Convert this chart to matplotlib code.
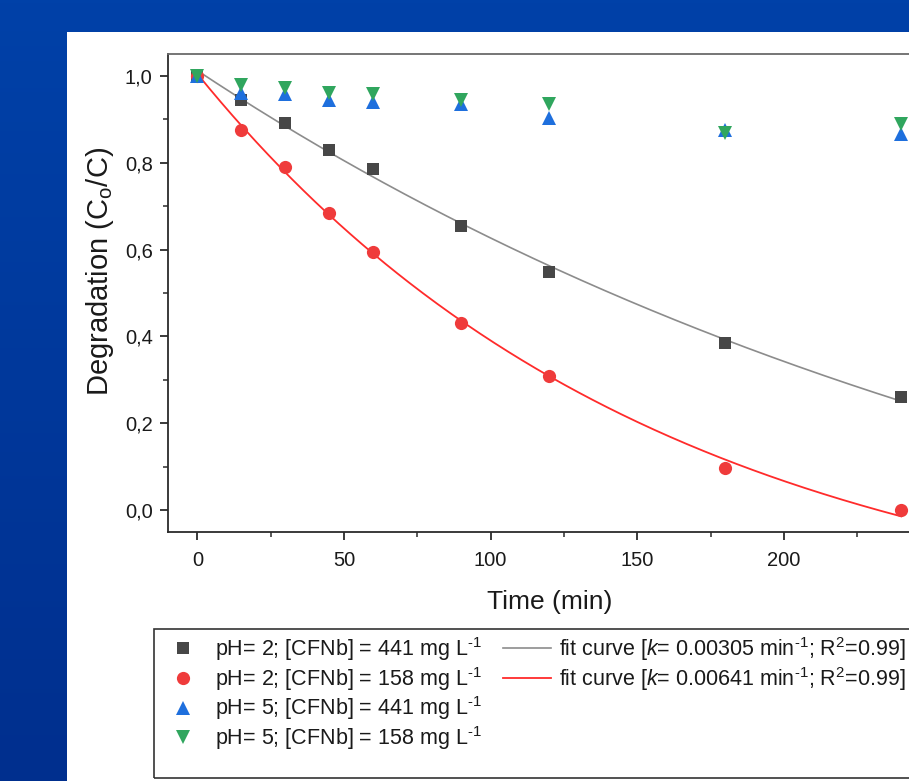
import numpy as np
import matplotlib.pyplot as plt
from matplotlib.patches import Rectangle
from matplotlib.lines import Line2D
from matplotlib.ticker import FixedLocator, MultipleLocator, FuncFormatter

plt.rcParams['font.family'] = ['Liberation Sans', 'DejaVu Sans']
plt.rcParams['mathtext.fontset'] = 'custom'
plt.rcParams['mathtext.rm'] = 'Liberation Sans'
plt.rcParams['mathtext.it'] = 'Liberation Sans:italic'

# sampling times (min)
time = [0, 15, 30, 45, 60, 90, 120, 180, 240]

# C/Co for each condition
ph2_441 = [1.0, 0.945, 0.892, 0.828, 0.786, 0.655, 0.549, 0.384, 0.260]
ph2_158 = [1.0, 0.876, 0.791, 0.685, 0.595, 0.432, 0.308, 0.097, 0.0]
ph5_441 = [1.0, 0.961, 0.959, 0.943, 0.939, 0.936, 0.903, 0.874, 0.867]
ph5_158 = [1.0, 0.979, 0.972, 0.961, 0.959, 0.945, 0.936, 0.869, 0.890]

# rate constants of the fitted first-order curves (min-1)
k_441 = 0.00305
k_158 = 0.00641

x_major = [0, 50, 100, 150, 200]
x_minor = [25, 75, 125, 175, 225]

series_labels = ['pH= 2; [CFNb] = 441 mg L$^{\\text{-1}}$',
                 'pH= 2; [CFNb] = 158 mg L$^{\\text{-1}}$',
                 'pH= 5; [CFNb] = 441 mg L$^{\\text{-1}}$',
                 'pH= 5; [CFNb] = 158 mg L$^{\\text{-1}}$']
fit_labels = ['fit curve [$\\mathit{k}$= 0.00305 min$^{\\text{-1}}$; R$^{\\mathregular{2}}$=0.99]',
              'fit curve [$\\mathit{k}$= 0.00641 min$^{\\text{-1}}$; R$^{\\mathregular{2}}$=0.99]']


def fit_curve(t, y, k, t_fit):
    # y = A + B*exp(-k t), A and B by least squares with k fixed
    t = np.asarray(t, float)
    M = np.column_stack([np.ones_like(t), np.exp(-k * t)])
    (a, b), *_ = np.linalg.lstsq(M, np.asarray(y, float), rcond=None)
    return a + b * np.exp(-k * t_fit)


W, H = 909, 781
fig = plt.figure(figsize=(W / 100, H / 100), dpi=100)

# blue slide background + white panel
bg = fig.add_axes([0, 0, 1, 1], zorder=-10)
grad = np.linspace(0, 1, 256).reshape(-1, 1)
top = np.array([0x00, 0x41, 0xa8]) / 255
bot = np.array([0x00, 0x2f, 0x8e]) / 255
img = top[None, None, :] * (1 - grad[:, :, None]) + bot[None, None, :] * grad[:, :, None]
bg.imshow(img, aspect='auto', extent=[0, 1, 0, 1], origin='upper')
bg.add_patch(Rectangle((67 / W, 0), 1, (H - 32) / H, color='white', lw=0))
bg.set_xlim(0, 1)
bg.set_ylim(0, 1)
bg.axis('off')

# main axes (right part runs past the figure edge)
x0, x1 = -10, 250
left_px, right_px = 168, 198 + 250 * 2.93
ax = fig.add_axes([left_px / W, 1 - 532 / H, (right_px - left_px) / W, (532 - 54) / H])

t_fit = np.linspace(0, 240, 300)
ax.plot(t_fit, fit_curve(time, ph2_441, k_441, t_fit), color='#8c8c8c', lw=1.2, zorder=2)
ax.plot(t_fit, fit_curve(time, ph2_158, k_158, t_fit), color='#ff2b2b', lw=1.3, zorder=2)

ax.plot(time, ph2_441, 's', color='#474747', ms=8, mew=0, zorder=3)
ax.plot(time, ph2_158, 'o', color='#ef3b3b', ms=9.5, mew=0, zorder=3)
ax.plot(time, ph5_441, '^', color='#1e6fdd', ms=10, mew=0, zorder=3)
ax.plot(time, ph5_158, 'v', color='#30a65e', ms=10, mew=0, zorder=4)

ax.set_xlim(x0, x1)
ax.set_ylim(-0.05, 1.05)
ax.xaxis.set_major_locator(FixedLocator(x_major))
ax.xaxis.set_minor_locator(FixedLocator(x_minor))
ax.yaxis.set_major_locator(MultipleLocator(0.2))
ax.yaxis.set_minor_locator(MultipleLocator(0.1))
ax.yaxis.set_major_formatter(FuncFormatter(lambda v, p: f'{v:.1f}'.replace('.', ',')))

for s in ['left', 'bottom']:
    ax.spines[s].set_linewidth(1.3)
    ax.spines[s].set_color('#2b2b2b')
ax.spines['top'].set_linewidth(1.3)
ax.spines['top'].set_color('#6a6a6a')
ax.spines['right'].set_visible(False)
ax.tick_params(which='major', direction='out', length=6, width=1.3, color='#2b2b2b',
               labelsize=14.5, pad=5, labelcolor='#1a1a1a')
ax.tick_params(axis='x', which='major', pad=8)
ax.tick_params(which='minor', direction='out', length=3.5, width=1.1, color='#2b2b2b')
ax.tick_params(top=False, right=False, which='both')

ax.set_xlabel('Time (min)', fontsize=19, labelpad=14, color='#1a1a1a')
ax.set_ylabel('Degradation (C$_{\\mathregular{o}}$/C)', fontsize=21, color='#1a1a1a')
ax.yaxis.set_label_coords(-0.068, 0.545)

# legend box and entries
fig.add_artist(Rectangle((154 / W, 1 - 778 / H), 1, (778 - 629) / H,
                         transform=fig.transFigure, fill=False, ec='#333333', lw=1.2))
handles = [
    Line2D([], [], ls='', marker='s', color='#474747', ms=8, mew=0),
    Line2D([], [], ls='', marker='o', color='#ef3b3b', ms=9.5, mew=0),
    Line2D([], [], ls='', marker='^', color='#1e6fdd', ms=10, mew=0),
    Line2D([], [], ls='', marker='v', color='#30a65e', ms=10, mew=0),
    Line2D([], [], color='#8c8c8c', lw=1.2),
    Line2D([], [], color='#ff2b2b', lw=1.3),
    Line2D([], [], ls='', marker=''),
    Line2D([], [], ls='', marker=''),
]
labels = series_labels + fit_labels + ['', '']
fig.legend(handles, labels, ncol=2, loc='upper left', bbox_to_anchor=(159 / W, 1 - 635 / H),
           frameon=False, fontsize=15.5, borderpad=0, borderaxespad=0, handlelength=2.2,
           handletextpad=0.4, columnspacing=1.0, labelspacing=0.08, labelcolor='#1a1a1a')

fig.savefig('out.png', dpi=100)
